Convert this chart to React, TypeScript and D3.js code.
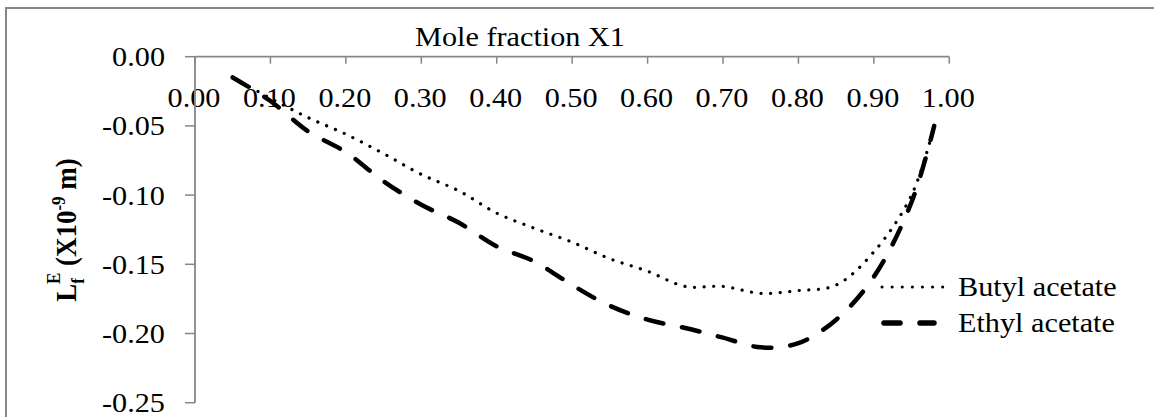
import React from 'react';
import * as d3 from 'd3';

// mole fraction X1
const moleFraction = [0.05, 0.1, 0.15, 0.2, 0.25, 0.3, 0.35, 0.4, 0.45, 0.5, 0.55, 0.6, 0.65, 0.7, 0.75, 0.8, 0.85, 0.9, 0.95, 0.98];
const butylAcetate = [-0.015, -0.03, -0.044, -0.056, -0.07, -0.085, -0.097, -0.113, -0.124, -0.134, -0.146, -0.155, -0.166, -0.166, -0.171, -0.169, -0.165, -0.141, -0.1, -0.05];
const ethylAcetate = [-0.015, -0.032, -0.054, -0.069, -0.09, -0.107, -0.12, -0.137, -0.148, -0.165, -0.18, -0.19, -0.196, -0.203, -0.21, -0.207, -0.19, -0.159, -0.105, -0.05];

const xTicks = [0, 0.1, 0.2, 0.3, 0.4, 0.5, 0.6, 0.7, 0.8, 0.9, 1.0];
const yTicks = [0, -0.05, -0.1, -0.15, -0.2, -0.25];

const W = 1154;
const H = 417;
const FONT = '"Liberation Serif", "Times New Roman", serif';
const SX = 1.12; // the picture is stretched sideways

const x = d3.scaleLinear().domain([0, 1]).range([195, 949.3]);
const y = d3.scaleLinear().domain([0, -0.25]).range([56.7, 402.7]);

const line = d3.line<number>()
  .x((_, i) => x(moleFraction[i]))
  .curve(d3.curveCatmullRom.alpha(0.5));

const Txt = ({ tx, ty, anchor = 'start', size = 27, weight = 'normal', children }: any) => (
  <text
    transform={`translate(${tx},${ty}) scale(${SX},1)`}
    textAnchor={anchor}
    dominantBaseline="central"
    fontFamily={FONT}
    fontSize={size}
    fontWeight={weight}
    fill="#000"
  >
    {children}
  </text>
);

export default function App() {
  const axisColor = '#868686';
  const butylPath = line.y((d) => y(d))(butylAcetate) || '';
  const ethylPath = line.y((d) => y(d))(ethylAcetate) || '';

  return (
    <svg width={W} height={H} style={{ position: 'absolute', left: 0, top: 0, background: '#fff' }}>
      <rect x={0} y={0} width={W} height={H} fill="#fff" />
      {/* chart border */}
      <rect x={6} y={8} width={W + 20} height={H + 20} fill="none" stroke={axisColor} strokeWidth={2} />

      {/* x axis on top */}
      <Txt tx={520} ty={37} anchor="middle">Mole fraction X1</Txt>
      <line x1={x(0)} x2={x(1)} y1={y(0)} y2={y(0)} stroke={axisColor} strokeWidth={1.8} />
      {xTicks.map((t) => (
        <g key={`xt${t}`}>
          <line x1={x(t)} x2={x(t)} y1={y(0)} y2={y(0) + 7} stroke={axisColor} strokeWidth={1.5} />
          <Txt tx={x(t) - 1} ty={98} anchor="middle">{t.toFixed(2)}</Txt>
        </g>
      ))}

      {/* y axis */}
      <line x1={x(0)} x2={x(0)} y1={y(0)} y2={y(-0.25)} stroke={axisColor} strokeWidth={1.8} />
      {yTicks.map((t) => (
        <g key={`yt${t}`}>
          <line x1={x(0) - 10} x2={x(0)} y1={y(t)} y2={y(t)} stroke={axisColor} strokeWidth={1.5} />
          <Txt tx={165} ty={y(t)} anchor="end">{t.toFixed(2)}</Txt>
        </g>
      ))}

      {/* y title */}
      <text
        transform={`translate(76,230) scale(${SX},1) rotate(-90)`}
        textAnchor="middle"
        fontFamily={FONT}
        fontSize={27}
        fontWeight="bold"
        fill="#000"
      >
        L
        <tspan fontSize={17} dy={7}>f</tspan>
        <tspan fontSize={17} dx={-6} dy={-21}>E</tspan>
        <tspan dy={14}> (X10</tspan>
        <tspan fontSize={17} dy={-10}>-9</tspan>
        <tspan dy={10}> m)</tspan>
      </text>

      {/* series */}
      <path d={butylPath} fill="none" stroke="#000" strokeWidth={3.2} strokeLinecap="round" strokeDasharray="0.1,9.5" />
      <path d={ethylPath} fill="none" stroke="#000" strokeWidth={4.5} strokeLinecap="round" strokeDasharray="18,19" />

      {/* legend */}
      <line x1={882} x2={947} y1={287} y2={287} stroke="#000" strokeWidth={3} strokeLinecap="round" strokeDasharray="0.1,10" />
      <Txt tx={958} ty={287}>Butyl acetate</Txt>
      <line x1={884} x2={934} y1={323} y2={323} stroke="#000" strokeWidth={5.5} strokeLinecap="round" strokeDasharray="16,20" />
      <Txt tx={958} ty={323}>Ethyl acetate</Txt>
    </svg>
  );
}
